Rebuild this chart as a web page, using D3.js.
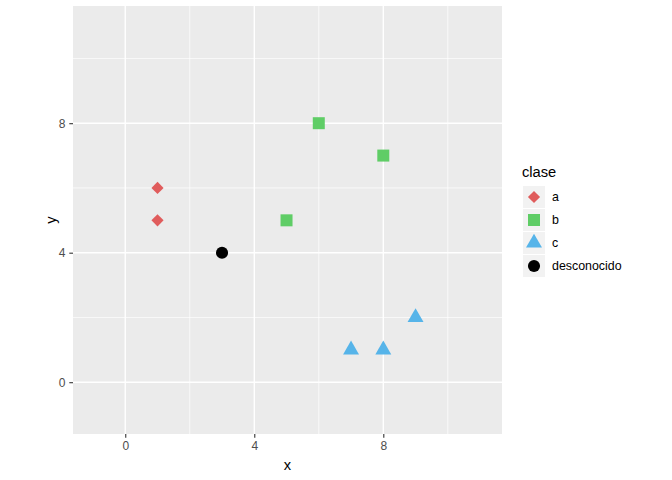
<!DOCTYPE html>
<html>
<head>
<meta charset="utf-8">
<script src="https://cdn.jsdelivr.net/npm/d3@7"></script>
<style>
  body { margin: 0; background: #fff; }
  svg text { font-family: "Liberation Sans", Arial, sans-serif; }
</style>
</head>
<body>
<div id="chart"></div>
<script>
'use strict'

const WIDTH = 672
const HEIGHT = 480

// data
const clases = ['a', 'b', 'c', 'desconocido']
const xs = [1, 1, 5, 6, 8, 7, 8, 9, 3]
const ys = [6, 5, 5, 8, 7, 1, 1, 2, 4]
const grupos = ['a', 'a', 'b', 'b', 'b', 'c', 'c', 'c', 'desconocido']
const xTicks = [0, 4, 8]
const yTicks = [0, 4, 8]
const minorTicks = [2, 6, 10]

const colors = {
  a: '#e05c5c',
  b: '#5fcd66',
  c: '#56b4e9',
  desconocido: '#000000'
}
const shapes = {
  a: d3.symbolSquare, // rotated 45deg below -> ggplot diamond
  b: d3.symbolSquare,
  c: d3.symbolTriangle,
  desconocido: d3.symbolCircle
}
const rotations = { a: 45, b: 0, c: 0, desconocido: 0 }
const sizes = { a: 74, b: 144, c: 110, desconocido: 115 }

const panel = { left: 73, top: 6, right: 502, bottom: 434 }

const svg = d3.select('#chart')
  .append('svg')
  .attr('width', WIDTH)
  .attr('height', HEIGHT)

const x = d3.scaleLinear().domain([-1.62, 11.68]).range([panel.left, panel.right])
const y = d3.scaleLinear().domain([-1.6, 11.62]).range([panel.bottom, panel.top])

svg.append('rect')
  .attr('x', panel.left)
  .attr('y', panel.top)
  .attr('width', panel.right - panel.left)
  .attr('height', panel.bottom - panel.top)
  .attr('fill', '#ebebeb')

const grid = svg.append('g')
// minor grid
grid.selectAll('line.vminor')
  .data(minorTicks)
  .enter()
  .append('line')
  .attr('x1', d => x(d)).attr('x2', d => x(d))
  .attr('y1', panel.top).attr('y2', panel.bottom)
  .attr('stroke', '#fff').attr('stroke-width', 0.7)
grid.selectAll('line.hminor')
  .data(minorTicks)
  .enter()
  .append('line')
  .attr('y1', d => y(d)).attr('y2', d => y(d))
  .attr('x1', panel.left).attr('x2', panel.right)
  .attr('stroke', '#fff').attr('stroke-width', 0.7)
// major grid
grid.selectAll('line.vmajor')
  .data(xTicks)
  .enter()
  .append('line')
  .attr('x1', d => x(d)).attr('x2', d => x(d))
  .attr('y1', panel.top).attr('y2', panel.bottom)
  .attr('stroke', '#fff').attr('stroke-width', 1.4)
grid.selectAll('line.hmajor')
  .data(yTicks)
  .enter()
  .append('line')
  .attr('y1', d => y(d)).attr('y2', d => y(d))
  .attr('x1', panel.left).attr('x2', panel.right)
  .attr('stroke', '#fff').attr('stroke-width', 1.4)

// axes
const xAxis = svg.append('g')
  .attr('transform', `translate(0,${panel.bottom})`)
  .call(d3.axisBottom(x).tickValues(xTicks).tickSize(3.7).tickPadding(4))
const yAxis = svg.append('g')
  .attr('transform', `translate(${panel.left},0)`)
  .call(d3.axisLeft(y).tickValues(yTicks).tickSize(3.7).tickPadding(4))
for (const ax of [xAxis, yAxis]) {
  ax.select('.domain').remove()
  ax.selectAll('line').attr('stroke', '#333333').attr('stroke-width', 1.1)
  ax.selectAll('text')
    .attr('fill', '#4d4d4d')
    .style('font-size', '12px')
    .style('font-family', '"Liberation Sans", Arial, sans-serif')
}

svg.append('text')
  .attr('x', (panel.left + panel.right) / 2)
  .attr('y', 470)
  .attr('text-anchor', 'middle')
  .style('font-size', '14.7px')
  .text('x')

svg.append('text')
  .attr('transform', `translate(56,${(panel.top + panel.bottom) / 2}) rotate(-90)`)
  .attr('text-anchor', 'middle')
  .style('font-size', '14.7px')
  .text('y')

function symbolPath (clase) {
  return d3.symbol().type(shapes[clase]).size(sizes[clase])()
}

// points
const points = xs.map((v, i) => ({ x: v, y: ys[i], clase: grupos[i] }))
svg.append('g')
  .selectAll('path')
  .data(points)
  .enter()
  .append('path')
  .attr('transform', d => `translate(${x(d.x)},${y(d.y)}) rotate(${rotations[d.clase]})`)
  .attr('d', d => symbolPath(d.clase))
  .attr('fill', d => colors[d.clase])

// legend
const legend = svg.append('g').attr('transform', 'translate(523,0)')
legend.append('text')
  .attr('x', -1)
  .attr('y', 177)
  .style('font-size', '14.7px')
  .text('clase')

const keySize = 22
const keyTop = 186
const keyStep = 23
const rows = legend.selectAll('g.key')
  .data(clases)
  .enter()
  .append('g')
  .attr('transform', (d, i) => `translate(0,${keyTop + i * keyStep})`)
rows.append('rect')
  .attr('width', keySize)
  .attr('height', keySize)
  .attr('fill', '#f2f2f2')
rows.append('path')
  .attr('transform', d => `translate(${keySize / 2},${keySize / 2}) rotate(${rotations[d]})`)
  .attr('d', d => symbolPath(d))
  .attr('fill', d => colors[d])
rows.append('text')
  .attr('x', 29)
  .attr('y', keySize / 2 + 4)
  .style('font-size', '12.4px')
  .text(d => d)
</script>
</body>
</html>
